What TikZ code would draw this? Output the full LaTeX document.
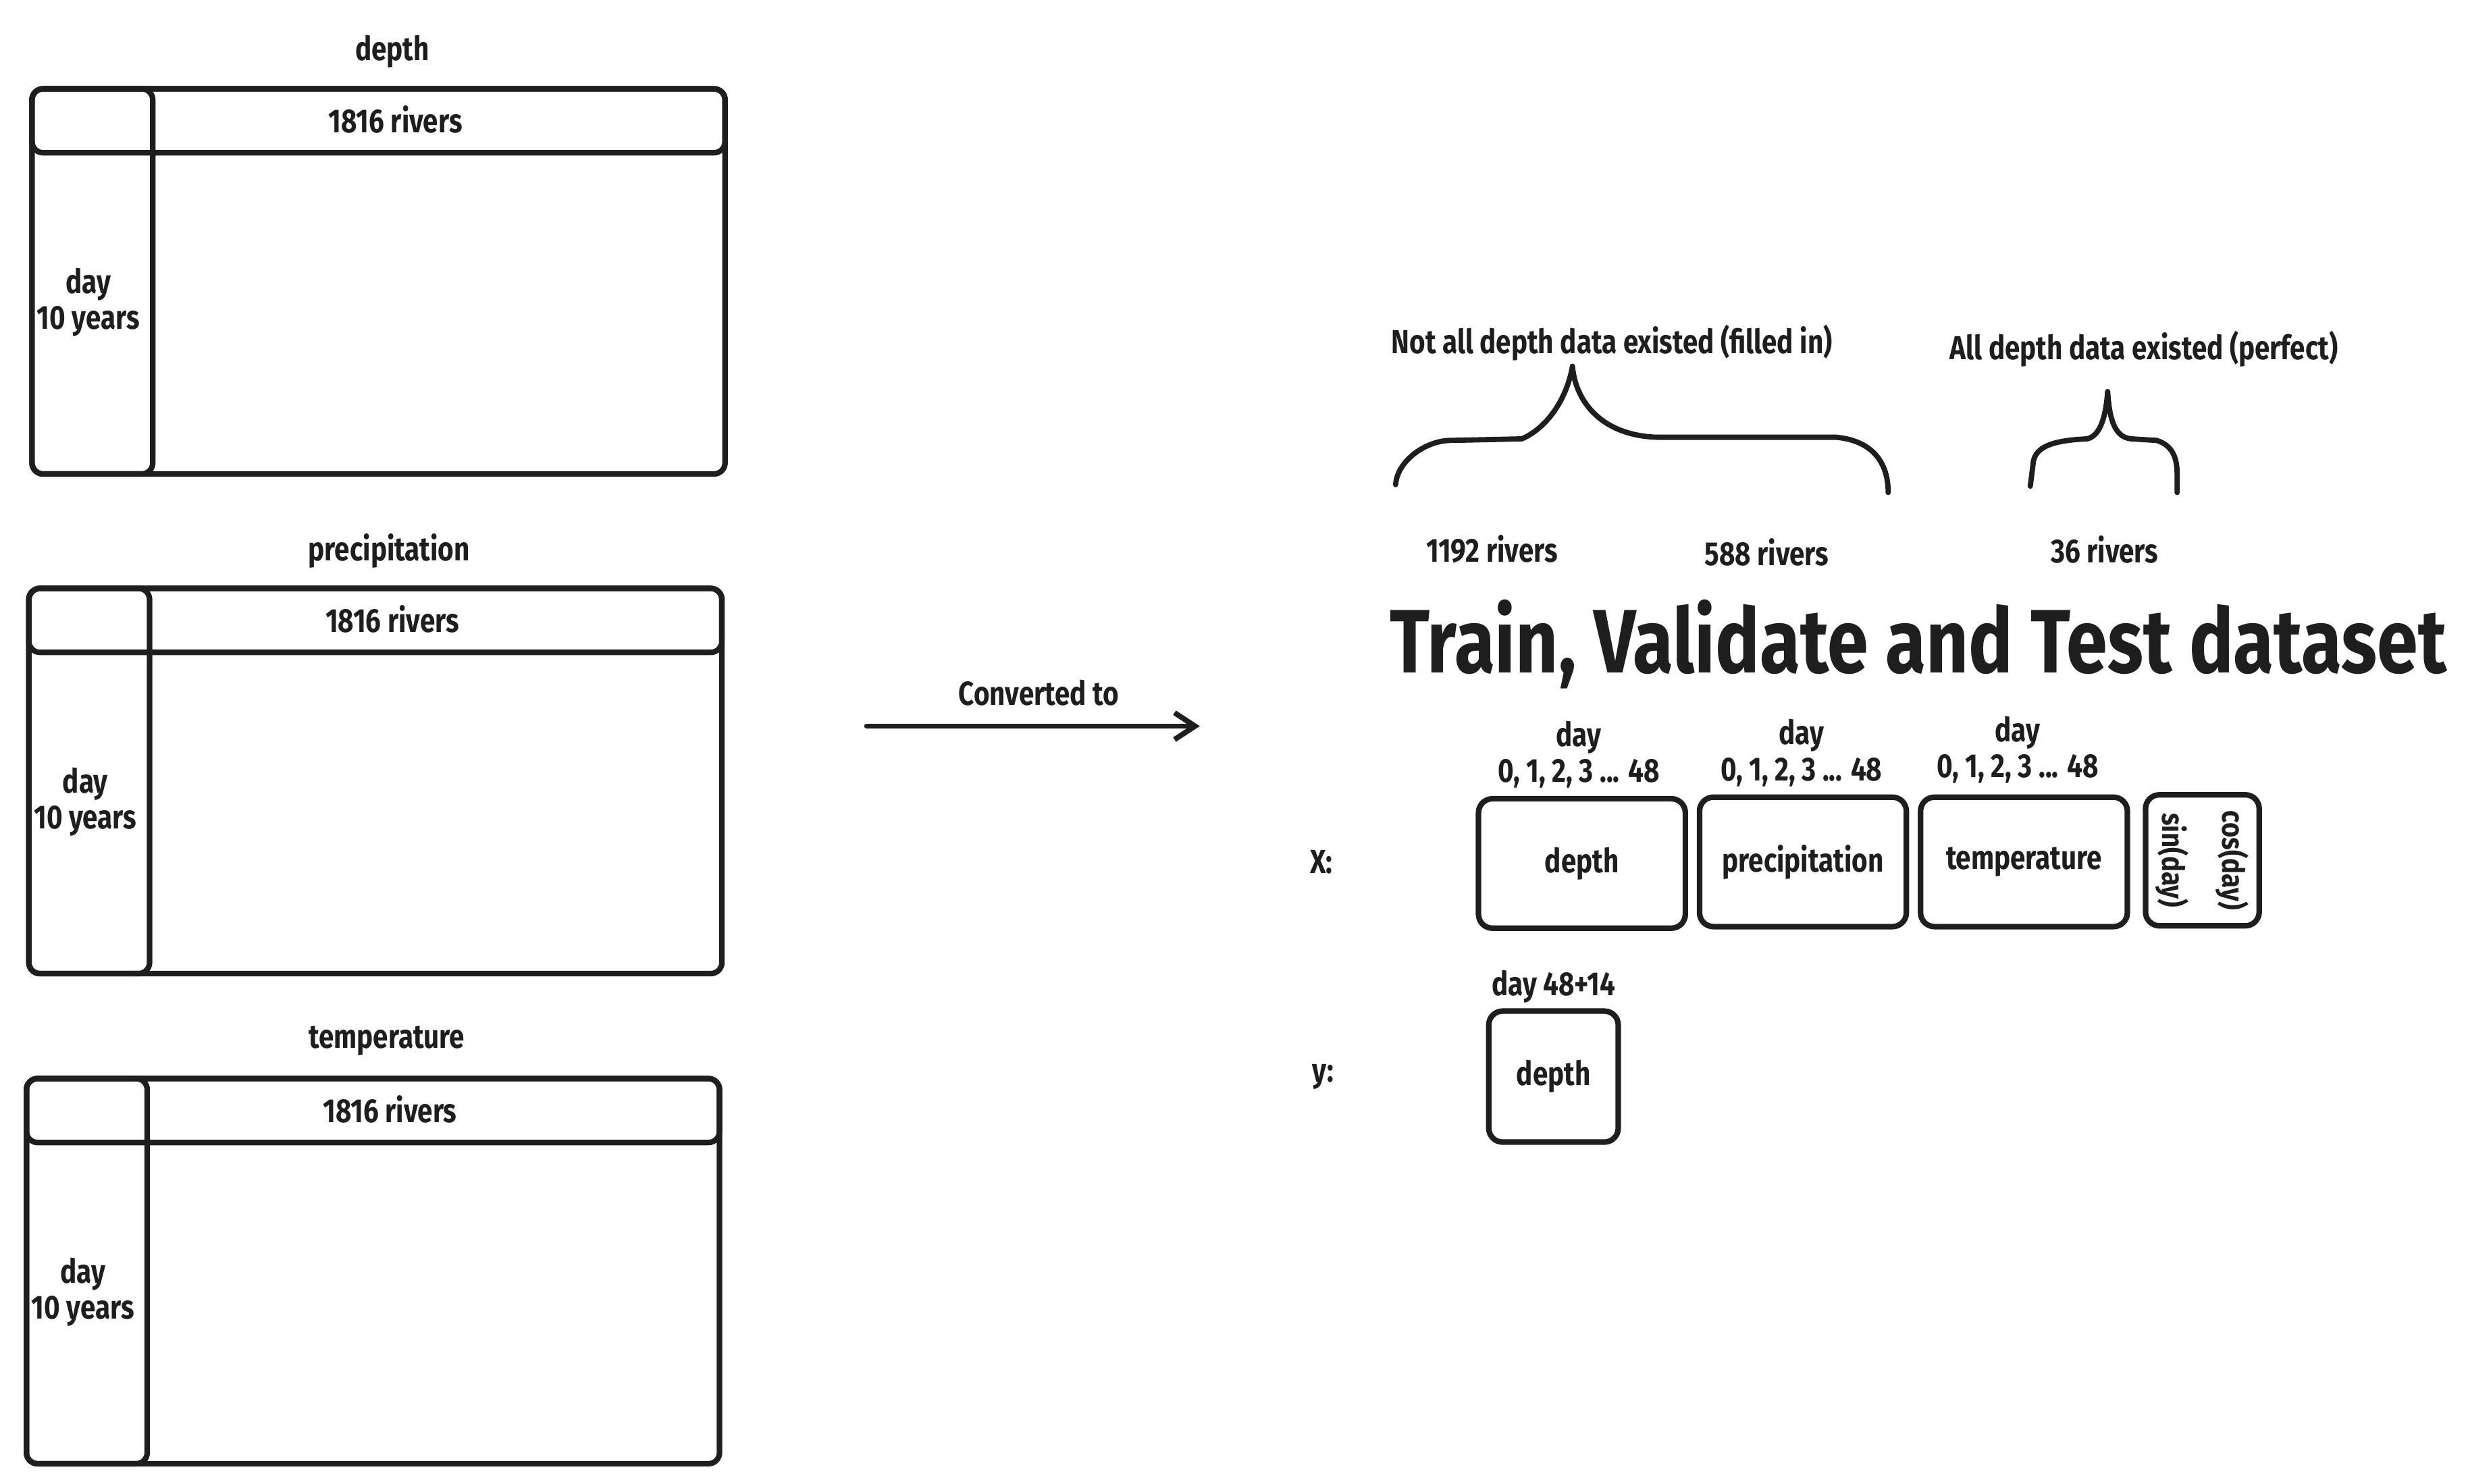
\documentclass[tikz,border=0pt]{standalone}
\usepackage{fontspec}
\setmainfont{Fira Sans}[FakeStretch=0.82]
\newfontfamily\trigfont{Fira Sans}[FakeStretch=0.85]
\usetikzlibrary{positioning}
\usetikzlibrary{arrows.meta}
\definecolor{ink}{HTML}{1E1E1E}

\begin{document}
\begin{tikzpicture}[x=0.02cm, y=-0.02cm, line cap=round, line join=round,
    every node/.style={text=ink, align=center, inner sep=0pt,
        font=\bfseries\fontsize{12}{13}\selectfont},
    tabbox/.style={draw=ink, line width=2pt, rounded corners=4pt, anchor=north west},
    databox/.style={draw=ink, line width=2pt, rounded corners=5pt},
    brace/.style={draw=ink, line width=1.9pt}]
    \def\px{0.02cm} % one pixel of the reference
    \def\tw{439}    % table width
    \def\th{244}    % table height

    \useasboundingbox (0,0) rectangle (1562,940);

    % the three tables of raw data
    \foreach \nm/\x/\y/\ttl in {dep/18.5/54.5/depth, pre/16.5/371/precipitation, tem/15/681.5/temperature} {
        \node[tabbox, minimum width=\tw*\px, minimum height=\th*\px] (tab-\nm) at (\x,\y) {};
        \node[tabbox, minimum width=\tw*\px, minimum height=40.5*\px] (head-\nm) at (\x,\y) {};
        \node[tabbox, minimum width=76.5*\px, minimum height=\th*\px] (col-\nm) at (\x,\y) {};
        \node (ttl-\nm) at (\x+230, \y-22) {\ttl};
        \node (riv-\nm) at (\x+232, \y+21) {1816 rivers};
        \node (day-\nm) at (\x+37.5, \y+137) {day\\10 years};
    }

    % fleche de conversion
    \node (conv) at (658,439) {Converted to};
    \coordinate (convA) at (549,460);
    \coordinate (convB) at (760,460);
    \draw[ink, line width=1.9pt, -{Straight Barb[length=0.26cm, width=0.34cm, line width=1.9pt]}] (convA) -- (convB);

    % accolades et nombres de rivieres
    \node (filled) at (1021,217) {Not all depth data existed (filled in)};
    \node (perfect) at (1358,221) {All depth data existed (perfect)};
    \draw[brace] (884,307) .. controls (885,292) and (903,279) .. (919,279) -- (964,278)
        .. controls (982,270) and (993,250) .. (996,232)
        .. controls (998,255) and (1015,276) .. (1050,277) -- (1163,277)
        .. controls (1185,279) and (1196,292) .. (1196,312);
    \draw[brace] (1286,308) -- (1288,292) .. controls (1290,283) and (1300,279) .. (1322,278)
        .. controls (1331,276) and (1334,262) .. (1335,248)
        .. controls (1336,262) and (1338,277) .. (1350,278) -- (1366,279)
        .. controls (1376,282) and (1379,290) .. (1379,300) -- (1379,312);
    \node (r1192) at (945,348) {1192 rivers};
    \node (r588) at (1119,350) {588 rivers};
    \node (r36) at (1333,348) {36 rivers};

    \node[font=\bfseries\fontsize{32.5}{36}\selectfont] (title) at (1215,408) {Train, Validate and Test dataset};

    % entrees X
    \node (xlab) at (837,546) {X:};
    \node[databox, minimum width=131*\px, minimum height=82*\px] (xdep) at (1002,547) {depth};
    \node[databox, minimum width=131*\px, minimum height=82*\px] (xpre) at (1142,546) {precipitation};
    \node[databox, minimum width=131*\px, minimum height=82*\px] (xtem) at (1282,546) {temperature};
    \node[databox, minimum width=72*\px, minimum height=83*\px] (xtrig) at (1395,545) {};
    \node[rotate=-90, font=\trigfont\bfseries\fontsize{11}{12}\selectfont] (sin) at (1376,545) {sin(day)};
    \node[rotate=-90, font=\trigfont\bfseries\fontsize{11}{12}\selectfont] (cos) at (1414,545) {cos(day)};
    \foreach \nm/\x/\y in {dep/1000/478, pre/1141/477, tem/1278/475} {
        \node (win-\nm) at (\x,\y) {day\\0, 1, 2, 3 ... 48};
    }

    % sortie y
    \node (ylab) at (838,682) {y:};
    \node (ywin) at (984,625) {day 48+14};
    \node[databox, minimum width=82*\px, minimum height=83*\px] (ydep) at (984,682) {depth};
\end{tikzpicture}
\end{document}
